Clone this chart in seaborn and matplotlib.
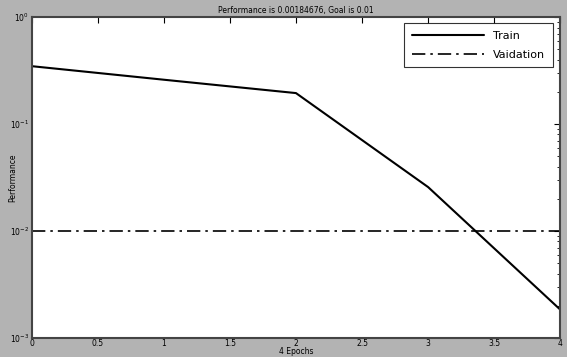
import matplotlib
matplotlib.use("Agg")
import matplotlib.pyplot as plt
import seaborn as sns
import pandas as pd

# Data
epochs = [0, 1, 2, 3, 4]
train_perf = [0.348, 0.26, 0.195, 0.0258, 0.00184676]
goal = 0.01
x_ticks = [0, 0.5, 1, 1.5, 2, 2.5, 3, 3.5, 4]

sns.set_theme(style="white")
plt.rcParams["font.family"] = ["DejaVu Sans"]

fig = plt.figure(figsize=(5.67, 3.57), dpi=100)
fig.patch.set_facecolor("#b3b3b3")
ax = fig.add_axes([0.056, 0.053, 0.932, 0.899])
ax.set_facecolor("white")

df = pd.DataFrame({"Epoch": epochs, "Performance": train_perf})
sns.lineplot(data=df, x="Epoch", y="Performance", color="black",
             linewidth=1.5, ax=ax, label="Train")
ax.axhline(goal, color="black", linewidth=1.2, linestyle=(0, (8, 3, 1.5, 3)),
           label="Vaidation")

ax.set_yscale("log")
ax.set_ylim(1e-3, 1)
ax.set_xlim(0, 4)
ax.set_xticks(x_ticks)
ax.set_xticklabels([f"{t:g}" for t in x_ticks])

ax.tick_params(axis="both", which="both", direction="in", top=True, right=True,
               labelsize=5.5, colors="black", pad=2)
ax.tick_params(which="major", length=4, width=0.8)
ax.tick_params(which="minor", length=2, width=0.6)
ax.tick_params(axis="x", pad=1)

for spine in ax.spines.values():
    spine.set_color("#444444")
    spine.set_linewidth(1.5)

ax.set_title("Performance is 0.00184676, Goal is 0.01", fontsize=5.5,
             pad=3, color="black")
ax.set_xlabel("4 Epochs", fontsize=5.5, labelpad=-1, color="black")
ax.set_ylabel("Performance", fontsize=5.5, color="black")
ax.yaxis.set_label_coords(-0.028, 0.5)

leg = ax.legend(loc="upper right", fontsize=8, frameon=True, fancybox=False,
                handlelength=6.5, borderpad=0.7, labelspacing=0.8,
                bbox_to_anchor=(0.997, 0.999))
leg.get_frame().set_edgecolor("black")
leg.get_frame().set_linewidth(0.8)
for t in leg.get_texts():
    t.set_color("black")

fig.savefig("out.png", dpi=100, facecolor=fig.get_facecolor())
